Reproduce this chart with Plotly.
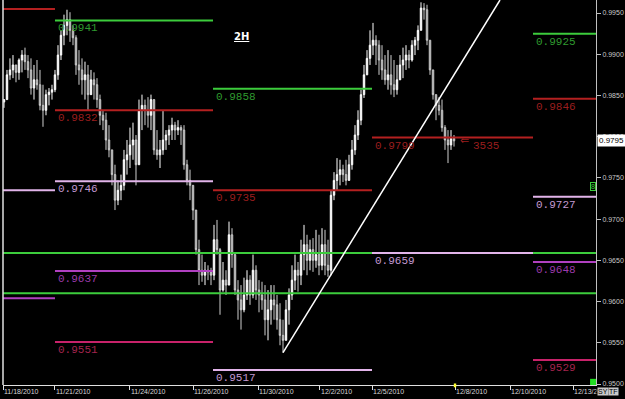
import plotly.graph_objects as go

# ---------------- data ----------------
first_open = 0.9842
high = [0.9845, 0.9881, 0.9895, 0.9899, 0.9887, 0.9895, 0.9905, 0.9908, 0.9899, 0.9895,
        0.9887, 0.9893, 0.9881, 0.9863, 0.9857, 0.9859, 0.9863, 0.9881, 0.9911, 0.9929,
        0.9948, 0.9954, 0.9951, 0.9935, 0.9923, 0.9905, 0.9895, 0.9891, 0.9887, 0.9881,
        0.9878, 0.9871, 0.9851, 0.9832, 0.9829, 0.9814, 0.9784, 0.9766, 0.9747, 0.9754,
        0.9784, 0.9796, 0.9811, 0.9817, 0.9802, 0.9845, 0.9851, 0.9845, 0.9848, 0.9851,
        0.9845, 0.9808, 0.9796, 0.9832, 0.9808, 0.9814, 0.9823, 0.9818, 0.9820, 0.9814,
        0.9814, 0.9772, 0.9760, 0.9741, 0.9711, 0.9675, 0.9657, 0.9648, 0.9644, 0.9641,
        0.9693, 0.9699, 0.9665, 0.9648, 0.9638, 0.9697, 0.9689, 0.9657, 0.9626, 0.9620,
        0.9629, 0.9638, 0.9632, 0.9657, 0.9644, 0.9626, 0.9624, 0.9620, 0.9614, 0.9620,
        0.9620, 0.9608, 0.9598, 0.9578, 0.9602, 0.9616, 0.9644, 0.9657, 0.9648, 0.9675,
        0.9693, 0.9681, 0.9675, 0.9677, 0.9687, 0.9681, 0.9689, 0.9687, 0.9675, 0.9735,
        0.9757, 0.9774, 0.9772, 0.9766, 0.9772, 0.9778, 0.9796, 0.9814, 0.9832, 0.9857,
        0.9887, 0.9905, 0.9929, 0.9938, 0.9923, 0.9917, 0.9911, 0.9899, 0.9905, 0.9899,
        0.9893, 0.9887, 0.9899, 0.9908, 0.9911, 0.9905, 0.9917, 0.9921, 0.9935, 0.9963,
        0.9962, 0.9960, 0.9917, 0.9881, 0.9851, 0.9848, 0.9845, 0.9814, 0.9808, 0.9808,
        0.9802]
low = [0.9835, 0.9845, 0.9869, 0.9871, 0.9866, 0.9869, 0.9878, 0.9881, 0.9871, 0.9851,
       0.9845, 0.9857, 0.9832, 0.9812, 0.9826, 0.9838, 0.9845, 0.9854, 0.9869, 0.9893,
       0.9911, 0.9923, 0.9915, 0.9911, 0.9875, 0.9863, 0.9851, 0.9845, 0.9832, 0.9851,
       0.9845, 0.9835, 0.9814, 0.9808, 0.9784, 0.9775, 0.9741, 0.9711, 0.9717, 0.9723,
       0.9735, 0.9754, 0.9762, 0.9772, 0.9741, 0.9766, 0.9808, 0.9814, 0.9811, 0.9808,
       0.9778, 0.9772, 0.9762, 0.9778, 0.9784, 0.9790, 0.9796, 0.9796, 0.9802, 0.9790,
       0.9760, 0.9741, 0.9723, 0.9699, 0.9657, 0.9620, 0.9624, 0.9620, 0.9626, 0.9620,
       0.9626, 0.9657, 0.9584, 0.9612, 0.9608, 0.9620, 0.9641, 0.9608, 0.9578, 0.9566,
       0.9587, 0.9602, 0.9596, 0.9604, 0.9602, 0.9587, 0.9590, 0.9559, 0.9553, 0.9572,
       0.9578, 0.9566, 0.9547, 0.9538, 0.9553, 0.9572, 0.9602, 0.9614, 0.9612, 0.9620,
       0.9638, 0.9632, 0.9638, 0.9636, 0.9641, 0.9632, 0.9638, 0.9632, 0.9630, 0.9632,
       0.9723, 0.9735, 0.9741, 0.9745, 0.9741, 0.9747, 0.9760, 0.9778, 0.9796, 0.9814,
       0.9847, 0.9875, 0.9887, 0.9899, 0.9887, 0.9875, 0.9869, 0.9863, 0.9857, 0.9851,
       0.9848, 0.9851, 0.9869, 0.9871, 0.9881, 0.9883, 0.9891, 0.9899, 0.9905, 0.9929,
       0.9942, 0.9911, 0.9875, 0.9845, 0.9820, 0.9826, 0.9806, 0.9784, 0.9768, 0.9784,
       0.9788]
close = [0.9845, 0.9875, 0.9881, 0.9887, 0.9878, 0.9893, 0.9899, 0.9891, 0.9881, 0.9859,
         0.9869, 0.9863, 0.9838, 0.9832, 0.9851, 0.9854, 0.9857, 0.9875, 0.9899, 0.9923,
         0.9935, 0.9942, 0.9929, 0.9920, 0.9887, 0.9881, 0.9869, 0.9875, 0.9851, 0.9869,
         0.9863, 0.9845, 0.9826, 0.9820, 0.9796, 0.9784, 0.9754, 0.9723, 0.9735, 0.9741,
         0.9772, 0.9778, 0.9790, 0.9796, 0.9766, 0.9832, 0.9838, 0.9832, 0.9826, 0.9845,
         0.9784, 0.9778, 0.9784, 0.9796, 0.9802, 0.9808, 0.9814, 0.9808, 0.9811, 0.9808,
         0.9766, 0.9747, 0.9741, 0.9711, 0.9663, 0.9638, 0.9632, 0.9638, 0.9636, 0.9632,
         0.9675, 0.9663, 0.9614, 0.9626, 0.9620, 0.9681, 0.9657, 0.9614, 0.9602, 0.9590,
         0.9608, 0.9626, 0.9608, 0.9638, 0.9614, 0.9608, 0.9602, 0.9578, 0.9590, 0.9602,
         0.9596, 0.9578, 0.9559, 0.9553, 0.9590, 0.9608, 0.9626, 0.9638, 0.9632, 0.9657,
         0.9669, 0.9650, 0.9663, 0.9650, 0.9657, 0.9644, 0.9669, 0.9644, 0.9638, 0.9729,
         0.9747, 0.9754, 0.9760, 0.9754, 0.9747, 0.9766, 0.9784, 0.9802, 0.9820, 0.9851,
         0.9875, 0.9895, 0.9911, 0.9917, 0.9911, 0.9893, 0.9881, 0.9869, 0.9875, 0.9863,
         0.9857, 0.9869, 0.9887, 0.9893, 0.9899, 0.9893, 0.9911, 0.9917, 0.9929, 0.9956,
         0.9954, 0.9917, 0.9881, 0.9851, 0.9838, 0.9832, 0.9811, 0.9796, 0.9790, 0.9798,
         0.9795]
open_ = [first_open] + close[:-1]
bar_idx = list(range(len(close)))

# date tick labels (bar-index positions)
date_tick_pos = [-0.33, 17, 42, 63, 84.67, 105.33, 122.67, 150.33, 168.67, 189.67]
date_tick_labels = ["11/18/2010", "11/21/2010", "11/24/2010", "11/26/2010", "11/30/2010",
                    "12/2/2010", "12/5/2010", "12/8/2010", "12/10/2010", "12/13/2010"]

price_ticks = [0.9500, 0.9550, 0.9600, 0.9650, 0.9700, 0.9750, 0.9800, 0.9850, 0.9900, 0.9950]

# weekly pivot levels
week_edges = [-0.33, 17, 69.67, 122.67, 176.33, 197.33]
lvl_price = [0.9955, 0.9735, 0.9604,
             0.9941, 0.9832, 0.9746, 0.9637, 0.9551,
             0.9858, 0.9735, 0.9517,
             0.9799, 0.9659,
             0.9925, 0.9846, 0.9727, 0.9648, 0.9529]
lvl_week = [0, 0, 0,
            1, 1, 1, 1, 1,
            2, 2, 2,
            3, 3,
            4, 4, 4, 4, 4]
lvl_kind = ["r", "l", "m",
            "g", "r", "l", "m", "c",
            "g", "r", "l",
            "r", "l",
            "g", "r", "l", "m", "c"]
full_levels = [0.9659, 0.9610]

trend_x = [93, 165.33]
trend_y = [0.9538, 0.99658]

last_price = 0.9795
spread_text = "3535"

# ---------------- styling ----------------
line_col = {"g": "#3ccc3c", "r": "#b42020", "l": "#e2b4ea", "m": "#b040c0", "c": "#c8226a"}
text_col = {"g": "#2f9a2f", "r": "#9a1e1e", "l": "#c49ad2", "m": "#9c3aaa", "c": "#a4244e"}

fig = go.Figure()
fig.add_trace(go.Candlestick(
    x=bar_idx, open=open_, high=high, low=low, close=close,
    increasing=dict(line=dict(color="#ffffff", width=1), fillcolor="#ffffff"),
    decreasing=dict(line=dict(color="#cfcfcf", width=1), fillcolor="#7a7a7a"),
    whiskerwidth=0, showlegend=False, hoverinfo="skip"))

shapes = []
annotations = []

for p in full_levels:
    shapes.append(dict(type="line", xref="paper", x0=0, x1=1, yref="y", y0=p, y1=p,
                       line=dict(color=line_col["g"], width=2), layer="above"))

for p, w, k in zip(lvl_price, lvl_week, lvl_kind):
    x0, x1 = week_edges[w], week_edges[w + 1]
    shapes.append(dict(type="line", xref="x", x0=x0, x1=x1, yref="y", y0=p, y1=p,
                       line=dict(color=line_col[k], width=2), layer="above"))
    if w > 0:
        annotations.append(dict(x=x0, y=p, xref="x", yref="y", text=f"{p:.4f}",
                                showarrow=False, xanchor="left", yanchor="top",
                                xshift=1, yshift=0,
                                font=dict(family="Liberation Mono", size=11, color=text_col[k])))

# trend line
shapes.append(dict(type="line", xref="x", yref="y", x0=trend_x[0], y0=trend_y[0],
                   x1=trend_x[1], y1=trend_y[1], line=dict(color="#ffffff", width=1.5),
                   layer="above"))
# left border
shapes.append(dict(type="line", xref="paper", yref="paper", x0=0, x1=0, y0=0, y1=1,
                   line=dict(color="#e0e0e0", width=1.5)))
# bottom-right green square
shapes.append(dict(type="rect", xref="paper", yref="paper", x0=0.990, x1=1.0, y0=0, y1=0.016,
                   fillcolor="#22dd22", line=dict(width=0)))
# yellow marker on time axis
shapes.append(dict(type="rect", xref="x", yref="paper", x0=date_tick_pos[7] - 0.4,
                   x1=date_tick_pos[7] + 0.4, y0=-0.006, y1=0.004,
                   fillcolor="#ffff30", line=dict(width=0)))

# arrow and spread text
annotations.append(dict(x=151.3, y=lvl_price[11], xref="x", yref="y", text="⇐",
                        showarrow=False, xanchor="left", yanchor="middle", yshift=-3,
                        font=dict(family="DejaVu Sans", size=11, color=text_col["r"])))
annotations.append(dict(x=155.5, y=lvl_price[11], xref="x", yref="y", text=spread_text,
                        showarrow=False, xanchor="left", yanchor="top", yshift=0,
                        font=dict(family="Liberation Mono", size=11, color=text_col["r"])))
# timeframe label
annotations.append(dict(x=0.386, y=0.905, xref="paper", yref="paper", text="<b><u>2H</u></b>",
                        showarrow=False, xanchor="left", yanchor="middle",
                        font=dict(family="DejaVu Sans", size=10, color="#ffffff")))
# current price box
annotations.append(dict(x=1, y=last_price, xref="paper", yref="y", text=f"{last_price:.4f}",
                        showarrow=False, xanchor="left", yanchor="middle", xshift=1,
                        bgcolor="#ffffff", borderpad=1,
                        font=dict(family="Liberation Sans", size=8, color="#000000")))
# small marker box
annotations.append(dict(x=0.995, y=0.515, xref="paper", yref="paper", text="8",
                        showarrow=False, xanchor="center", yanchor="middle",
                        bordercolor="#3ccc3c", borderwidth=1, borderpad=0,
                        font=dict(family="Liberation Sans", size=7, color="#3ccc3c")))
# cover and buttons bottom right
annotations.append(dict(x=1, y=0, xref="paper", yref="paper", text="&nbsp;" * 14,
                        showarrow=False, xanchor="left", yanchor="top", yshift=-1,
                        bgcolor="#000000", font=dict(size=9, color="#000000")))
annotations.append(dict(x=1, y=0, xref="paper", yref="paper", text="SY",
                        showarrow=False, xanchor="left", yanchor="top", yshift=-2, xshift=1,
                        bgcolor="#c8c8c8", borderpad=0,
                        font=dict(family="Liberation Sans", size=7, color="#000000")))
annotations.append(dict(x=1, y=0, xref="paper", yref="paper", text="TF",
                        showarrow=False, xanchor="left", yanchor="top", yshift=-2, xshift=12,
                        bgcolor="#c8c8c8", borderpad=0,
                        font=dict(family="Liberation Sans", size=7, color="#000000")))

fig.update_layout(
    width=625, height=399,
    margin=dict(l=3, r=29, t=0, b=14),
    paper_bgcolor="#000000", plot_bgcolor="#000000",
    shapes=shapes, annotations=annotations,
    showlegend=False, hovermode=False,
    xaxis=dict(range=[-0.33, 197.33], rangeslider=dict(visible=False),
               tickmode="array", tickvals=date_tick_pos, ticktext=date_tick_labels,
               ticks="outside", ticklen=4, tickcolor="#e0e0e0",
               ticklabelposition="outside right",
               tickfont=dict(family="Liberation Sans", size=7, color="#d8d8d8"),
               showgrid=False, zeroline=False, showline=True, linecolor="#e0e0e0",
               linewidth=1, automargin=False),
    yaxis=dict(range=[0.94988, 0.99658], side="right",
               tickmode="array", tickvals=price_ticks, tickformat=".4f",
               ticks="outside", ticklen=4, tickcolor="#c0c0c0",
               tickfont=dict(family="Liberation Sans", size=7, color="#c8c8c8"),
               showgrid=False, zeroline=False, showline=True, linecolor="#c0c0c0",
               linewidth=1, automargin=False),
)

fig.write_html("out.html")
